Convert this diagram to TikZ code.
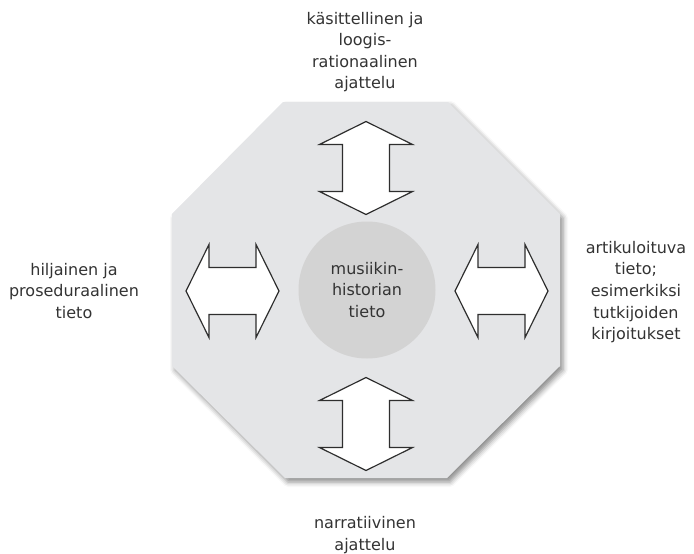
\documentclass[tikz,border=0pt]{standalone}
\usepackage{fontspec}
\setmainfont{DejaVu Sans}
\usetikzlibrary{shadows.blur}
\definecolor{ink}{HTML}{333333}
\definecolor{outline}{HTML}{2E2E2E}
\definecolor{platefill}{HTML}{E4E5E7}
\definecolor{corefill}{HTML}{D3D3D3}
\tikzset{
  every node/.style={font=\fontsize{16}{21.6}\selectfont, text=ink},
  note/.style={align=center, inner sep=0pt},
  plate/.style={fill=platefill, draw=none, blur shadow={shadow xshift=3pt, shadow yshift=-4pt, shadow blur radius=5pt, shadow opacity=45}},
  twoway/.style={fill=white, draw=outline, line width=1.2pt, line join=miter},
}
\begin{document}
\begin{tikzpicture}[x=1pt, y=-1pt]
  \useasboundingbox (0,0) rectangle (694,554);

  % octagon plate
  \fill[plate] (283,102) -- (448,102) -- (560,214) -- (560,366) -- (447,478)
    -- (285,478) -- (172,366) -- (172,214) -- cycle;

  % centre circle
  \node[circle, fill=corefill, minimum size=137pt, inner sep=0pt, align=center] (core) at (367,290) {musiikin-\\historian\\tieto};

  % double arrows: x / y / rotation
  \foreach \x/\y/\r in {366/168/90, 366/424/90, 232.5/291/0, 501.5/291/0} {
    \draw[twoway, shift={(\x,\y)}, rotate=\r]
      (-46.5,0) -- (-23.5,-46.5) -- (-23.5,-23.5) -- (23.5,-23.5) -- (23.5,-46.5)
      -- (46.5,0) -- (23.5,46.5) -- (23.5,23.5) -- (-23.5,23.5) -- (-23.5,46.5) -- cycle;
  }

  % outer labels
  \node[note] (up) at (365,52) {käsittellinen ja\\loogis-\\rationaalinen\\ajattelu};
  \node[note] (left) at (74,291) {hiljainen ja\\proseduraalinen\\tieto};
  \node[note] (right) at (636,292) {artikuloituva\\tieto;\\esimerkiksi\\tutkijoiden\\kirjoitukset};
  \node[note] (down) at (365,535) {narratiivinen\\ajattelu};
\end{tikzpicture}
\end{document}
